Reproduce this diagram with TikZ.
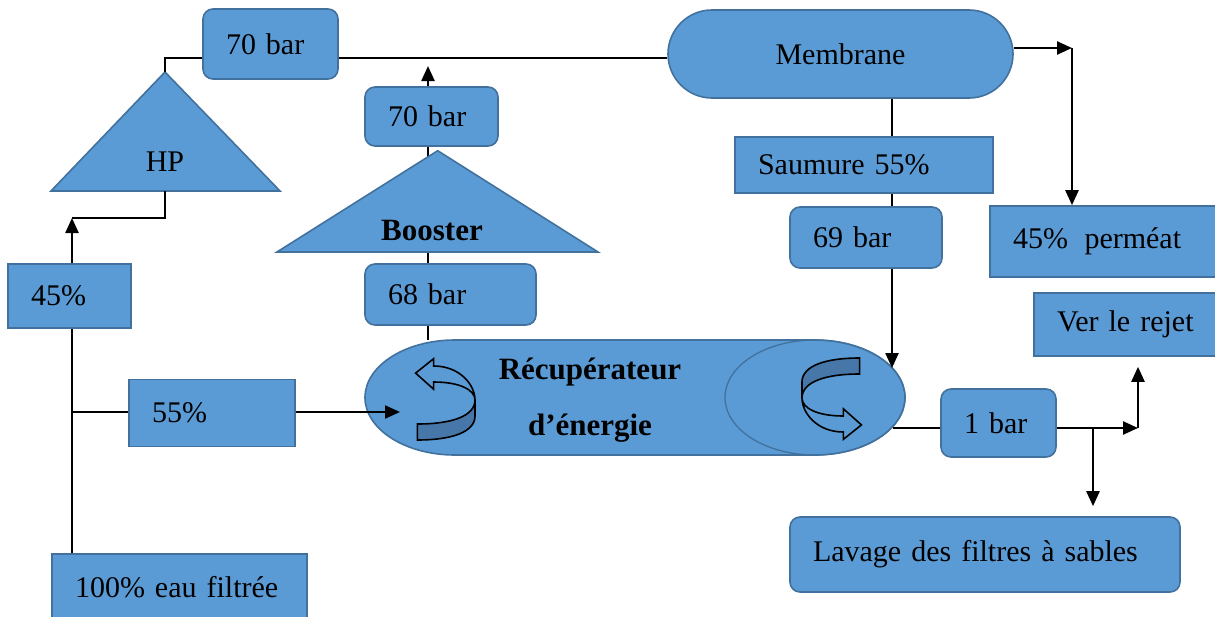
\documentclass[tikz,border=0pt]{standalone}
\usepackage{fontspec}
\setmainfont{Liberation Serif}
\usetikzlibrary{arrows.meta,shapes.misc}
\definecolor{boxblue}{HTML}{5B9BD5}
\definecolor{edgeblue}{HTML}{41719C}
\definecolor{bandblue}{HTML}{4677A8}
\newcommand\wordgap{\spaceskip 0.33em plus 0.1em\relax}
\tikzset{
  blockfill/.style={fill=boxblue, draw=edgeblue, line width=1.6pt},
  txt/.style={font=\fontsize{30}{34}\selectfont\wordgap},
  txtb/.style={font=\fontsize{31}{35}\selectfont\bfseries},
  sqbox/.style={blockfill, txt, rectangle, inner xsep=23pt, inner ysep=0pt, align=left},
  rbox/.style={sqbox, rounded corners=10pt},
  flow/.style={line width=2.4pt},
  thinline/.style={line width=1.2pt},
  arrowed/.style={-{Triangle[length=15pt,width=13pt]}},
  swirl/.pic={
    \draw[line width=1.6pt, fill=boxblue] (-11.4,-40.3) -- (-29.4,-25.9) -- (-11.4,-9.8) -- (-11.4,-17) .. controls (15,-17) and (30,-9) .. (30,1) .. controls (30,-14) and (15,-33) .. (-11.4,-33) -- cycle;
    \draw[line width=1.6pt, fill=bandblue] (-27.6,25) .. controls (7,25) and (30,17) .. (30,1) -- (30,17) .. controls (30,33) and (7,41) .. (-27.6,41) -- cycle;
  }
}

\begin{document}
\begin{tikzpicture}[x=1pt, y=-1pt]
  \useasboundingbox (0,0) rectangle (1215,616);
  \coordinate (tee) at (72,412);
  \coordinate (hpcorner) at (72,218);
  \coordinate (hptop) at (165,58);
  \coordinate (hpapex) at (165,72);
  \coordinate (hpbl) at (51,191);
  \coordinate (hpbr) at (280,191);
  \coordinate (bstapex) at (437.7,150.7);
  \coordinate (bstbl) at (277,252);
  \coordinate (bstbr) at (598,252);
  \coordinate (boostin) at (428,340);
  \coordinate (boostout) at (428,66);
  \coordinate (recin) at (400,412);
  \coordinate (recout) at (893,428);
  \coordinate (brinein) at (892,368);
  \coordinate (bx) at (892,300);
  \coordinate (pcorner) at (1072,48);
  \coordinate (rcorner) at (1138,428);
  \coordinate (split) at (1093,428);

  \draw[flow, arrowed] (boostin) -- (boostout);

  \node[minimum width=540pt, minimum height=115pt, inner sep=0pt] (rec) at (635,397.5) {};
  \draw[blockfill] (455,340) -- (815,340) arc[start angle=90, end angle=-90, x radius=90pt, y radius=57.5pt] -- (455,455) arc[start angle=270, end angle=90, x radius=90pt, y radius=57.5pt] -- cycle;
  \draw[draw=edgeblue, line width=1.3pt] (815,397.5) ellipse [x radius=90pt, y radius=57.5pt];
  \node[txtb] (rec1) at (590,372) {Récupérateur};
  \node[txtb] (rec2) at (590,428) {d’énergie};
  \pic at (445,399) {swirl};
  \pic[rotate=180] at (832,399) {swirl};

  \draw[blockfill] (hpbl) -- (hpapex) -- (hpbr) -- cycle;
  \node[txt] (hp) at (165,162) {HP};
  \draw[blockfill] (bstbl) -- (bstapex) -- (bstbr) -- cycle;
  \node[txtb] (booster) at (432,230) {Booster};

  \node[sqbox, text width=77pt, minimum height=64pt] (p45) at (69.5,296) {45\%};
  \node[sqbox, text width=120pt, minimum height=67pt] (p55) at (212,413) {55\%};
  \node[sqbox, text width=209pt, minimum height=66pt] (feed) at (179.5,587) {100\% eau filtrée};
  \node[rbox, text width=89pt, minimum height=70pt] (bar70a) at (270.5,44) {70 bar};
  \node[rbox, text width=87pt, minimum height=59pt] (bar70b) at (431.5,116.5) {70 bar};
  \node[rbox, text width=125pt, minimum height=61pt] (bar68) at (450.5,294.5) {68 bar};
  \node[blockfill, txt, rounded rectangle, minimum width=345pt, minimum height=88pt, inner sep=0pt] (mem) at (840.5,54) {Membrane};
  \node[sqbox, text width=212pt, minimum height=56pt] (sau) at (864,165) {Saumure 55\%};
  \node[rbox, text width=106pt, minimum height=61pt] (bar69) at (866,237.5) {69 bar};
  \node[sqbox, text width=184pt, minimum height=71pt] (perm) at (1105,241.5) {45\%\hspace{0.55em}perméat};
  \node[sqbox, text width=145pt, minimum height=63pt] (rejet) at (1129.5,324.5) {Ver le rejet};
  \node[rbox, text width=69pt, minimum height=68pt] (bar1) at (998.5,423) {1 bar};
  \node[rbox, text width=344pt, minimum height=75pt] (lavage) at (985,554.5) {Lavage des filtres à sables};

  \draw[flow] (feed.north -| tee) -- (p45.south -| tee);
  \draw[flow] (tee) -- (p55.west |- tee);
  \draw[flow, arrowed] (p55.east |- tee) -- (recin);
  \draw[flow, arrowed] (p45.north -| tee) -- (hpcorner);
  \draw[thinline] (hpcorner) -| (hpapex |- hpbl);
  \draw[thinline] (hpapex) -- (hptop) -- (hptop -| bar70a.west);
  \draw[thinline] (hptop -| bar70a.east) -- (hptop -| mem.west);
  \draw[flow, arrowed] (pcorner -| mem.east) -- (pcorner);
  \draw[flow, arrowed] (pcorner) -- (pcorner |- perm.north);
  \draw[thinline] (bx |- mem.south) -- (bx |- sau.north);
  \draw[flow] (bx |- sau.south) -- (bx |- bar69.north);
  \draw[flow, arrowed] (bx |- bar69.south) -- (brinein);
  \draw[flow] (recout) -- (bar1.west |- rcorner);
  \draw[flow, arrowed] (bar1.east |- rcorner) -- (rcorner);
  \draw[flow, arrowed, shorten >=10pt] (rcorner) -- (rcorner |- rejet.south);
  \draw[flow, arrowed, shorten >=10pt] (split) -- (split |- lavage.north);
\end{tikzpicture}
\end{document}
